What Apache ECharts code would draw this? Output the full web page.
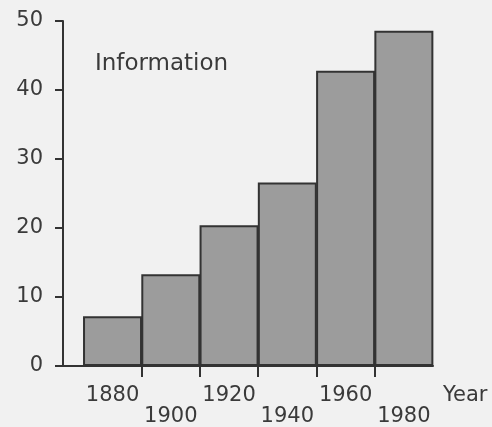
<!DOCTYPE html>
<html>
<head>
<meta charset="utf-8">
<script src="https://cdn.jsdelivr.net/npm/echarts@6/dist/echarts.min.js"></script>
<style>
html,body{margin:0;padding:0;background:#f1f1f1;}
#c{width:492px;height:427px;}
</style>
</head>
<body>
<div id="c"></div>
<script>
// Data
const years = [1880, 1900, 1920, 1940, 1960, 1980];
const information = [7.2, 13.3, 20.4, 26.6, 42.8, 48.6];
const boundaries = [1890, 1910, 1930, 1950, 1970];
const yTicks = [0, 10, 20, 30, 40, 50];

const ink = '#333';
const textColor = '#3a3a3a';
const font = 'DejaVu Sans';

const chart = echarts.init(document.getElementById('c'), null, {renderer: 'canvas'});
chart.setOption({
  backgroundColor: '#f1f1f1',
  animation: false,
  title: {
    text: 'Information',
    left: 95, top: 53, padding: 0,
    textStyle: {fontFamily: font, fontSize: 23, fontWeight: 'normal', color: textColor}
  },
  grid: {left: 63, right: 59, top: 21, bottom: 57, containLabel: false},
  xAxis: {
    type: 'value',
    min: 1863, max: 1990,
    splitLine: {show: false},
    axisLine: {show: true, onZero: true, lineStyle: {color: ink, width: 2}},
    axisTick: {show: true, length: 11, customValues: boundaries, lineStyle: {color: ink, width: 2}},
    axisLabel: {
      show: true, customValues: years, margin: 19,
      fontFamily: font, fontSize: 21, color: textColor, lineHeight: 21,
      formatter: function (v) {
        const i = years.indexOf(v);
        return (i % 2 === 1 ? '\n' : '') + v;
      }
    },
    name: 'Year', nameLocation: 'end', nameGap: 10,
    nameTextStyle: {fontFamily: font, fontSize: 21, color: textColor, verticalAlign: 'top', lineHeight: 21, padding: [19, 0, 0, 0], align: 'left'}
  },
  yAxis: {
    type: 'value',
    min: yTicks[0], max: yTicks[yTicks.length - 1], interval: 10,
    splitLine: {show: false},
    axisLine: {show: true, lineStyle: {color: ink, width: 2}},
    axisTick: {show: true, length: 8, lineStyle: {color: ink, width: 2}},
    axisLabel: {margin: 20, fontFamily: font, fontSize: 21, color: textColor}
  },
  series: [{
    type: 'bar',
    data: years.map((y, i) => [y, information[i]]),
    barWidth: 59,
    itemStyle: {color: '#9c9c9c', borderColor: ink, borderWidth: 2}
  }]
});
</script>
</body>
</html>
